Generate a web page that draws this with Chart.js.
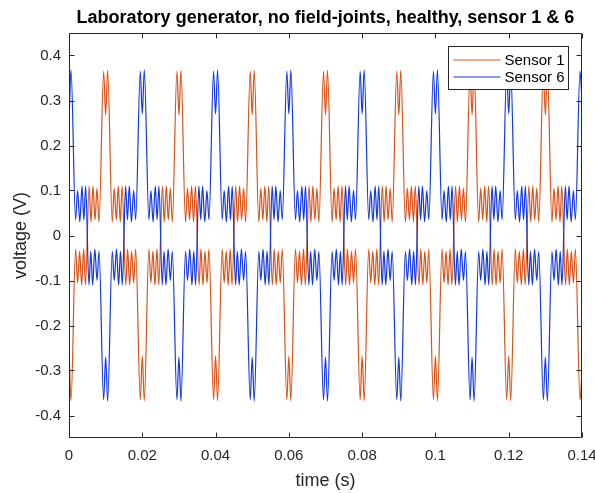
<!DOCTYPE html>
<html>
<head>
<meta charset="utf-8">
<script src="https://cdn.jsdelivr.net/npm/chart.js@4.4.1/dist/chart.umd.min.js"></script>
<style>
  html, body { margin: 0; padding: 0; background: #fff; }
  #wrap { width: 595px; height: 493px; }
</style>
</head>
<body>
<div id="wrap"><canvas id="myChart" width="595" height="493"></canvas></div>
<script>
const chartTitle = "Laboratory generator, no field-joints, healthy, sensor 1 & 6";

// axis ticks
const xTicks = [0, 0.02, 0.04, 0.06, 0.08, 0.1, 0.12, 0.14];
const xTickLabels = ["0", "0.02", "0.04", "0.06", "0.08", "0.1", "0.12", "0.14"];
const yTicks = [-0.4, -0.3, -0.2, -0.1, 0, 0.1, 0.2, 0.3, 0.4];
const yTickLabels = ["-0.4", "-0.3", "-0.2", "-0.1", "0", "0.1", "0.2", "0.3", "0.4"];

// Sensor 1 (orange), time in s, voltage in V
const sensor1Time = [
  0, 0.00055,
  0.0018, 0.00235, 0.0029, 0.00345, 0.004, 0.0045, 0.0055, 0.006, 0.00655, 0.0071, 0.00765, 0.0082,
  0.00945, 0.01, 0.01055,
  0.0118, 0.01235, 0.0129, 0.01345, 0.014, 0.0145, 0.0155, 0.016, 0.01655, 0.0171, 0.01765, 0.0182,
  0.01945, 0.02, 0.02055,
  0.0218, 0.02235, 0.0229, 0.02345, 0.024, 0.0245, 0.0255, 0.026, 0.02655, 0.0271, 0.02765, 0.0282,
  0.02945, 0.03, 0.03055,
  0.0318, 0.03235, 0.0329, 0.03345, 0.034, 0.0345, 0.0355, 0.036, 0.03655, 0.0371, 0.03765, 0.0382,
  0.03945, 0.04, 0.04055,
  0.0418, 0.04235, 0.0429, 0.04345, 0.044, 0.0445, 0.0455, 0.046, 0.04655, 0.0471, 0.04765, 0.0482,
  0.04945, 0.05, 0.05055,
  0.0518, 0.05235, 0.0529, 0.05345, 0.054, 0.0545, 0.0555, 0.056, 0.05655, 0.0571, 0.05765, 0.0582,
  0.05945, 0.06, 0.06055,
  0.0618, 0.06235, 0.0629, 0.06345, 0.064, 0.0645, 0.0655, 0.066, 0.06655, 0.0671, 0.06765, 0.0682,
  0.06945, 0.07, 0.07055,
  0.0718, 0.07235, 0.0729, 0.07345, 0.074, 0.0745, 0.0755, 0.076, 0.07655, 0.0771, 0.07765, 0.0782,
  0.07945, 0.08, 0.08055,
  0.0818, 0.08235, 0.0829, 0.08345, 0.084, 0.0845, 0.0855, 0.086, 0.08655, 0.0871, 0.08765, 0.0882,
  0.08945, 0.09, 0.09055,
  0.0918, 0.09235, 0.0929, 0.09345, 0.094, 0.0945, 0.0955, 0.096, 0.09655, 0.0971, 0.09765, 0.0982,
  0.09945, 0.1, 0.10055,
  0.1018, 0.10235, 0.1029, 0.10345, 0.104, 0.1045, 0.1055, 0.106, 0.10655, 0.1071, 0.10765, 0.1082,
  0.10945, 0.11, 0.11055,
  0.1118, 0.11235, 0.1129, 0.11345, 0.114, 0.1145, 0.1155, 0.116, 0.11655, 0.1171, 0.11765, 0.1182,
  0.11945, 0.12, 0.12055,
  0.1218, 0.12235, 0.1229, 0.12345, 0.124, 0.1245, 0.1255, 0.126, 0.12655, 0.1271, 0.12765, 0.1282,
  0.12945, 0.13, 0.13055,
  0.1318, 0.13235, 0.1329, 0.13345, 0.134, 0.1345, 0.1355, 0.136, 0.13655, 0.1371, 0.13765, 0.1382,
  0.13945, 0.14
];
const sensor1Volt = [
  -0.25, -0.367,
  // 0.00 - 0.02
  -0.03, -0.105, -0.035, -0.11, -0.03, -0.11, 0.11, 0.03, 0.11, 0.035, 0.105, 0.03,
  0.365, 0.268, 0.367,
  0.03, 0.105, 0.035, 0.11, 0.03, 0.11, -0.11, -0.03, -0.11, -0.035, -0.105, -0.03,
  -0.365, -0.268, -0.367,
  // 0.02 - 0.04
  -0.03, -0.105, -0.035, -0.11, -0.03, -0.11, 0.11, 0.03, 0.11, 0.035, 0.105, 0.03,
  0.365, 0.268, 0.367,
  0.03, 0.105, 0.035, 0.11, 0.03, 0.11, -0.11, -0.03, -0.11, -0.035, -0.105, -0.03,
  -0.365, -0.268, -0.367,
  // 0.04 - 0.06
  -0.03, -0.105, -0.035, -0.11, -0.03, -0.11, 0.11, 0.03, 0.11, 0.035, 0.105, 0.03,
  0.365, 0.268, 0.367,
  0.03, 0.105, 0.035, 0.11, 0.03, 0.11, -0.11, -0.03, -0.11, -0.035, -0.105, -0.03,
  -0.365, -0.268, -0.367,
  // 0.06 - 0.08
  -0.03, -0.105, -0.035, -0.11, -0.03, -0.11, 0.11, 0.03, 0.11, 0.035, 0.105, 0.03,
  0.365, 0.268, 0.367,
  0.03, 0.105, 0.035, 0.11, 0.03, 0.11, -0.11, -0.03, -0.11, -0.035, -0.105, -0.03,
  -0.365, -0.268, -0.367,
  // 0.08 - 0.10
  -0.03, -0.105, -0.035, -0.11, -0.03, -0.11, 0.11, 0.03, 0.11, 0.035, 0.105, 0.03,
  0.365, 0.268, 0.367,
  0.03, 0.105, 0.035, 0.11, 0.03, 0.11, -0.11, -0.03, -0.11, -0.035, -0.105, -0.03,
  -0.365, -0.268, -0.367,
  // 0.10 - 0.12
  -0.03, -0.105, -0.035, -0.11, -0.03, -0.11, 0.11, 0.03, 0.11, 0.035, 0.105, 0.03,
  0.365, 0.268, 0.367,
  0.03, 0.105, 0.035, 0.11, 0.03, 0.11, -0.11, -0.03, -0.11, -0.035, -0.105, -0.03,
  -0.365, -0.268, -0.367,
  // 0.12 - 0.14
  -0.03, -0.105, -0.035, -0.11, -0.03, -0.11, 0.11, 0.03, 0.11, 0.035, 0.105, 0.03,
  0.365, 0.268, 0.367,
  0.03, 0.105, 0.035, 0.11, 0.03, 0.11, -0.11, -0.03, -0.11, -0.035, -0.105, -0.03,
  -0.365, -0.3
];

// Sensor 6 (blue)
const sensor6Time = [
  0, 0.00055,
  0.0018, 0.00235, 0.00295, 0.00355, 0.00405, 0.00455, 0.00545, 0.00595, 0.00645, 0.00705, 0.00765, 0.0082,
  0.00945, 0.01, 0.01055,
  0.0118, 0.01235, 0.01295, 0.01355, 0.01405, 0.01455, 0.01545, 0.01595, 0.01645, 0.01705, 0.01765, 0.0182,
  0.01945, 0.02, 0.02055,
  0.0218, 0.02235, 0.02295, 0.02355, 0.02405, 0.02455, 0.02545, 0.02595, 0.02645, 0.02705, 0.02765, 0.0282,
  0.02945, 0.03, 0.03055,
  0.0318, 0.03235, 0.03295, 0.03355, 0.03405, 0.03455, 0.03545, 0.03595, 0.03645, 0.03705, 0.03765, 0.0382,
  0.03945, 0.04, 0.04055,
  0.0418, 0.04235, 0.04295, 0.04355, 0.04405, 0.04455, 0.04545, 0.04595, 0.04645, 0.04705, 0.04765, 0.0482,
  0.04945, 0.05, 0.05055,
  0.0518, 0.05235, 0.05295, 0.05355, 0.05405, 0.05455, 0.05545, 0.05595, 0.05645, 0.05705, 0.05765, 0.0582,
  0.05945, 0.06, 0.06055,
  0.0618, 0.06235, 0.06295, 0.06355, 0.06405, 0.06455, 0.06545, 0.06595, 0.06645, 0.06705, 0.06765, 0.0682,
  0.06945, 0.07, 0.07055,
  0.0718, 0.07235, 0.07295, 0.07355, 0.07405, 0.07455, 0.07545, 0.07595, 0.07645, 0.07705, 0.07765, 0.0782,
  0.07945, 0.08, 0.08055,
  0.0818, 0.08235, 0.08295, 0.08355, 0.08405, 0.08455, 0.08545, 0.08595, 0.08645, 0.08705, 0.08765, 0.0882,
  0.08945, 0.09, 0.09055,
  0.0918, 0.09235, 0.09295, 0.09355, 0.09405, 0.09455, 0.09545, 0.09595, 0.09645, 0.09705, 0.09765, 0.0982,
  0.09945, 0.1, 0.10055,
  0.1018, 0.10235, 0.10295, 0.10355, 0.10405, 0.10455, 0.10545, 0.10595, 0.10645, 0.10705, 0.10765, 0.1082,
  0.10945, 0.11, 0.11055,
  0.1118, 0.11235, 0.11295, 0.11355, 0.11405, 0.11455, 0.11545, 0.11595, 0.11645, 0.11705, 0.11765, 0.1182,
  0.11945, 0.12, 0.12055,
  0.1218, 0.12235, 0.12295, 0.12355, 0.12405, 0.12455, 0.12545, 0.12595, 0.12645, 0.12705, 0.12765, 0.1282,
  0.12945, 0.13, 0.13055,
  0.1318, 0.13235, 0.13295, 0.13355, 0.13405, 0.13455, 0.13545, 0.13595, 0.13645, 0.13705, 0.13765, 0.1382,
  0.13945, 0.14
];
const sensor6Volt = [
  0.25, 0.368,
  // 0.00 - 0.02
  0.035, 0.1, 0.03, 0.11, 0.035, 0.11, -0.11, -0.035, -0.11, -0.03, -0.1, -0.035,
  -0.365, -0.27, -0.368,
  -0.035, -0.1, -0.03, -0.11, -0.035, -0.11, 0.11, 0.035, 0.11, 0.03, 0.1, 0.035,
  0.365, 0.27, 0.368,
  // 0.02 - 0.04
  0.035, 0.1, 0.03, 0.11, 0.035, 0.11, -0.11, -0.035, -0.11, -0.03, -0.1, -0.035,
  -0.365, -0.27, -0.368,
  -0.035, -0.1, -0.03, -0.11, -0.035, -0.11, 0.11, 0.035, 0.11, 0.03, 0.1, 0.035,
  0.365, 0.27, 0.368,
  // 0.04 - 0.06
  0.035, 0.1, 0.03, 0.11, 0.035, 0.11, -0.11, -0.035, -0.11, -0.03, -0.1, -0.035,
  -0.365, -0.27, -0.368,
  -0.035, -0.1, -0.03, -0.11, -0.035, -0.11, 0.11, 0.035, 0.11, 0.03, 0.1, 0.035,
  0.365, 0.27, 0.368,
  // 0.06 - 0.08
  0.035, 0.1, 0.03, 0.11, 0.035, 0.11, -0.11, -0.035, -0.11, -0.03, -0.1, -0.035,
  -0.365, -0.27, -0.368,
  -0.035, -0.1, -0.03, -0.11, -0.035, -0.11, 0.11, 0.035, 0.11, 0.03, 0.1, 0.035,
  0.365, 0.27, 0.368,
  // 0.08 - 0.10
  0.035, 0.1, 0.03, 0.11, 0.035, 0.11, -0.11, -0.035, -0.11, -0.03, -0.1, -0.035,
  -0.365, -0.27, -0.368,
  -0.035, -0.1, -0.03, -0.11, -0.035, -0.11, 0.11, 0.035, 0.11, 0.03, 0.1, 0.035,
  0.365, 0.27, 0.368,
  // 0.10 - 0.12
  0.035, 0.1, 0.03, 0.11, 0.035, 0.11, -0.11, -0.035, -0.11, -0.03, -0.1, -0.035,
  -0.365, -0.27, -0.368,
  -0.035, -0.1, -0.03, -0.11, -0.035, -0.11, 0.11, 0.035, 0.11, 0.03, 0.1, 0.035,
  0.365, 0.27, 0.368,
  // 0.12 - 0.14
  0.035, 0.1, 0.03, 0.11, 0.035, 0.11, -0.11, -0.035, -0.11, -0.03, -0.1, -0.035,
  -0.365, -0.27, -0.368,
  -0.035, -0.1, -0.03, -0.11, -0.035, -0.11, 0.11, 0.035, 0.11, 0.03, 0.1, 0.035,
  0.365, 0.3
];

const FONT = "'Liberation Sans', Arial, Helvetica, sans-serif";
const AXIS_COLOR = "#262626";

function toPoints(t, v) {
  return t.map((x, i) => ({ x: x, y: v[i] }));
}

// box round the plot with inward tick marks (matlab style)
const boxPlugin = {
  id: "box",
  afterDatasetsDraw(chart) {
    const { ctx, chartArea: a, scales } = chart;
    const l = Math.round(a.left) + 0.5, r = Math.round(a.right) - 0.5;
    const t = Math.round(a.top) + 0.5, b = Math.round(a.bottom) - 0.5;
    ctx.save();
    ctx.strokeStyle = AXIS_COLOR;
    ctx.lineWidth = 1;
    ctx.beginPath();
    ctx.rect(l, t, r - l, b - t);
    scales.x.ticks.forEach((tk) => {
      const px = Math.round(scales.x.getPixelForValue(tk.value)) + 0.5;
      ctx.moveTo(px, b); ctx.lineTo(px, b - 5);
      ctx.moveTo(px, t); ctx.lineTo(px, t + 5);
    });
    scales.y.ticks.forEach((tk) => {
      const py = Math.round(scales.y.getPixelForValue(tk.value)) + 0.5;
      ctx.moveTo(l, py); ctx.lineTo(l + 5, py);
      ctx.moveTo(r, py); ctx.lineTo(r - 5, py);
    });
    ctx.stroke();

    // title centred over the axes, like matlab does
    ctx.fillStyle = "#000";
    ctx.font = "bold 18px " + FONT;
    ctx.textAlign = "center";
    ctx.textBaseline = "middle";
    ctx.fillText(chartTitle, (a.left + a.right) / 2, 18);
    ctx.restore();
  },
};

// legend box in the upper right corner
const legendPlugin = {
  id: "boxLegend",
  afterDraw(chart) {
    const { ctx } = chart;
    const x0 = 448.5, y0 = 46.5, w = 120, h = 43;
    ctx.save();
    ctx.fillStyle = "#fff";
    ctx.fillRect(x0, y0, w, h);
    ctx.strokeStyle = AXIS_COLOR;
    ctx.lineWidth = 1;
    ctx.strokeRect(x0, y0, w, h);
    ctx.font = "15px " + FONT;
    ctx.textBaseline = "middle";
    chart.data.datasets.forEach((ds, i) => {
      const y = y0 + 13.5 + i * 17;
      ctx.strokeStyle = ds.borderColor;
      ctx.beginPath();
      ctx.moveTo(x0 + 5, y);
      ctx.lineTo(x0 + 52, y);
      ctx.stroke();
      ctx.fillStyle = "#000";
      ctx.fillText(ds.label, x0 + 56, y + 1);
    });
    ctx.restore();
  },
};

const ctx = document.getElementById("myChart").getContext("2d");

const chart = new Chart(ctx, {
  type: "line",
  data: {
    datasets: [
      {
        label: "Sensor 1",
        data: toPoints(sensor1Time, sensor1Volt),
        borderColor: "#d95319",
        borderWidth: 1.2,
        pointRadius: 0,
        cubicInterpolationMode: "monotone",
        order: 2,
      },
      {
        label: "Sensor 6",
        data: toPoints(sensor6Time, sensor6Volt),
        borderColor: "#1238e0",
        borderWidth: 1.2,
        pointRadius: 0,
        cubicInterpolationMode: "monotone",
        order: 1,
      },
    ],
  },
  options: {
    responsive: false,
    animation: false,
    devicePixelRatio: 1,
    layout: { padding: { left: 0, right: 13, top: 33, bottom: 0 } },
    plugins: {
      legend: { display: false },
      tooltip: { enabled: false },
      title: { display: false },
    },
    scales: {
      x: {
        type: "linear",
        min: 0,
        max: 0.14,
        grid: { display: false, drawTicks: false },
        border: { display: false },
        afterBuildTicks: (s) => { s.ticks = xTicks.map((v) => ({ value: v })); },
        afterFit: (s) => { s.height = 55; s.paddingLeft = 0; s.paddingRight = 0; },
        ticks: {
          color: AXIS_COLOR,
          font: { family: FONT, size: 15 },
          padding: 9,
          maxRotation: 0,
          callback: (v, i) => xTickLabels[i],
        },
        title: {
          display: true,
          text: "time (s)",
          color: AXIS_COLOR,
          font: { family: FONT, size: 18 },
          padding: { top: 2, bottom: 1 },
        },
      },
      y: {
        type: "linear",
        min: -0.45,
        max: 0.45,
        grid: { display: false, drawTicks: false },
        border: { display: false },
        afterBuildTicks: (s) => { s.ticks = yTicks.map((v) => ({ value: v })); },
        afterFit: (s) => { s.width = 69; s.paddingTop = 0; s.paddingBottom = 0; },
        ticks: {
          color: AXIS_COLOR,
          font: { family: FONT, size: 15 },
          padding: 8,
          callback: (v, i) => yTickLabels[i],
        },
        title: {
          display: true,
          text: "voltage (V)",
          color: AXIS_COLOR,
          font: { family: FONT, size: 18 },
          padding: { top: 10, bottom: 0 },
        },
      },
    },
  },
  plugins: [boxPlugin, legendPlugin],
});
</script>
</body>
</html>
